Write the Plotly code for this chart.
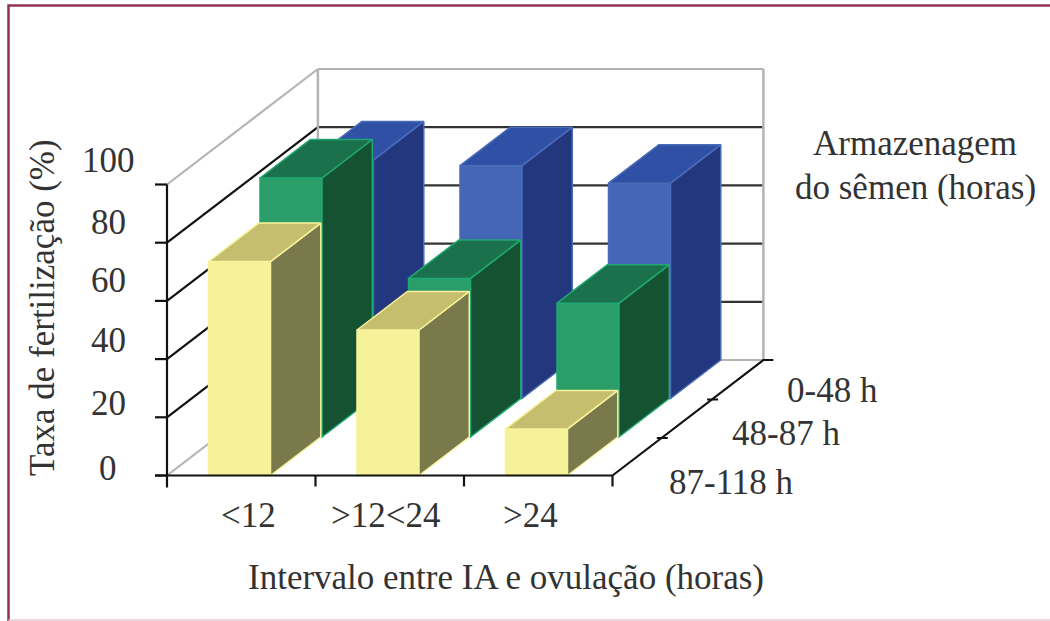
import plotly.graph_objects as go

# ---- data ----
categories = ["<12", ">12<24", ">24"]
depth_labels = ["87-118 h", "48-87 h", "0-48 h"]
tick_labels = ["0", "20", "40", "60", "80", "100"]
tick_values = [0, 20, 40, 60, 80, 100]
yellow_values = [73.5, 50, 16]
green_values = [89, 54.5, 46]
blue_values = [82, 80, 74]

# ---- projection constants (oblique 3D look) ----
X0, Y0 = 167.0, 475.5       # front-left floor corner, in page pixels
CAT_W = 148.5               # width of a category on the front axis
PX_PER_UNIT = 2.91          # pixels per percentage point
DEPTH_X, DEPTH_Y = 50.3, -38.5  # screen shift per depth slot
BAR_OFF, BAR_W = 41.5, 62.0
BAR_DEPTH_SHIFT = 1.2       # extra horizontal drift of the bars per depth slot


def project(cat, depth, value):
    return (X0 + cat * CAT_W + depth * DEPTH_X,
            Y0 + depth * DEPTH_Y - value * PX_PER_UNIT)


fig = go.Figure()


def line(points, color, width=2.0):
    xs, ys = zip(*points)
    fig.add_trace(go.Scatter(x=xs, y=ys, mode="lines", hoverinfo="skip", showlegend=False,
                             line=dict(color=color, width=width)))


GREY = "#b4b4b4"
DARK = "#333333"
BLACK = "#111111"

# page frame
line([(8.5, 621), (8.5, 5.5), (1050, 5.5)], "#8f3355", 2.5)
line([(8.5, 620), (1050, 620)], "#e6c8d2", 1.5)

# walls and grid
for v in tick_values:
    wall_col = GREY if v in (0, 100) else BLACK
    back_col = GREY if v in (0, 100) else DARK
    line([project(0, 0, v), project(0, 3, v)], wall_col, 2.2)
    line([project(0, 3, v), project(3, 3, v)], back_col, 2.2)
line([project(0, 3, 0), project(0, 3, 100)], GREY, 2.5)
line([project(3, 3, 0), project(3, 3, 100)], GREY, 2.5)

# bars, back row first
series = [
    ("0-48 h", blue_values, 2, "#4566b4", "#2f50a5", "#22377e", "#4a6bb8"),
    ("48-87 h", green_values, 1, "#2a9d68", "#1b714b", "#155232", "#1fa873"),
    ("87-118 h", yellow_values, 0, "#f5f29a", "#c4be6e", "#7a794b", "#f7f39a"),
]
for name, values, d, c_front, c_top, c_side, c_edge in series:
    faces = {"front": ([], []), "top": ([], []), "side": ([], [])}
    drift = d * BAR_DEPTH_SHIFT
    for i, v in enumerate(values):
        dx = (BAR_OFF + BAR_W + drift) / CAT_W
        sx = (BAR_OFF + drift) / CAT_W
        a = project(i + sx, d, 0)
        b = project(i + dx, d, 0)
        c = project(i + dx, d, v)
        e = project(i + sx, d, v)
        f = project(i + sx, d + 1, v)
        g = project(i + dx, d + 1, v)
        h = project(i + dx, d + 1, 0)
        for key, poly in (("front", [a, b, c, e, a]), ("top", [e, c, g, f, e]), ("side", [b, h, g, c, b])):
            faces[key][0].extend([p[0] for p in poly] + [None])
            faces[key][1].extend([p[1] for p in poly] + [None])
    for key, col in (("front", c_front), ("side", c_side), ("top", c_top)):
        fig.add_trace(go.Scatter(x=faces[key][0], y=faces[key][1], mode="lines", fill="toself",
                                 fillcolor=col, line=dict(color=c_edge, width=1.5),
                                 name=f"{name} {key}", hoverinfo="skip", showlegend=False))

# axes
line([project(0, 0, 100), (X0, Y0 + 12)], BLACK, 2.2)
line([(X0 - 12, Y0), project(3, 0, 0)], BLACK, 2.2)
line([project(3, 0, 0), project(3, 3, 0), (project(3, 3, 0)[0] + 10, project(3, 3, 0)[1])], BLACK, 2.2)
for v in tick_values:
    px, py = project(0, 0, v)
    line([(px - 12, py), (px, py)], BLACK, 2.2)
for i in range(1, 4):
    px, py = project(i, 0, 0)
    line([(px, py), (px, py + 11)], BLACK, 2.2)
for d in (1, 2):
    px, py = project(3, d, 0)
    line([(px - 6, py + 1), (px + 5, py + 1)], BLACK, 2.0)

# text
FONT = "Liberation Serif"
TXT = "#333333"


def label(x, y, text, size=35, angle=0):
    fig.add_annotation(x=x, y=y, text=text, showarrow=False, textangle=angle, xanchor="center", yanchor="middle",
                       font=dict(family=FONT, size=size, color=TXT))


tick_label_y = [468, 403, 340, 280, 222, 160]
for t, y in zip(tick_labels, tick_label_y):
    label(108, y, t)
for c, x in zip(categories, [248, 385, 530]):
    label(x, 515, c)
for t, x, y in zip(depth_labels, [731, 786, 832], [482, 433, 390]):
    label(x, y, t)
label(42, 308, "Taxa de fertilização (%)", angle=-90)
label(506, 577, "Intervalo entre IA e ovulação (horas)")
label(915, 143, "Armazenagem")
label(915, 187, "do sêmen (horas)")

fig.update_layout(width=1050, height=621, margin=dict(l=0, r=0, t=0, b=0),
                  paper_bgcolor="white", plot_bgcolor="white", showlegend=False,
                  xaxis=dict(range=[0, 1050], visible=False, fixedrange=True),
                  yaxis=dict(range=[621, 0], visible=False, fixedrange=True))
fig.write_html("out.html", config={"displayModeBar": False},
               post_script="document.body.style.margin='0';document.body.style.overflow='hidden';")
